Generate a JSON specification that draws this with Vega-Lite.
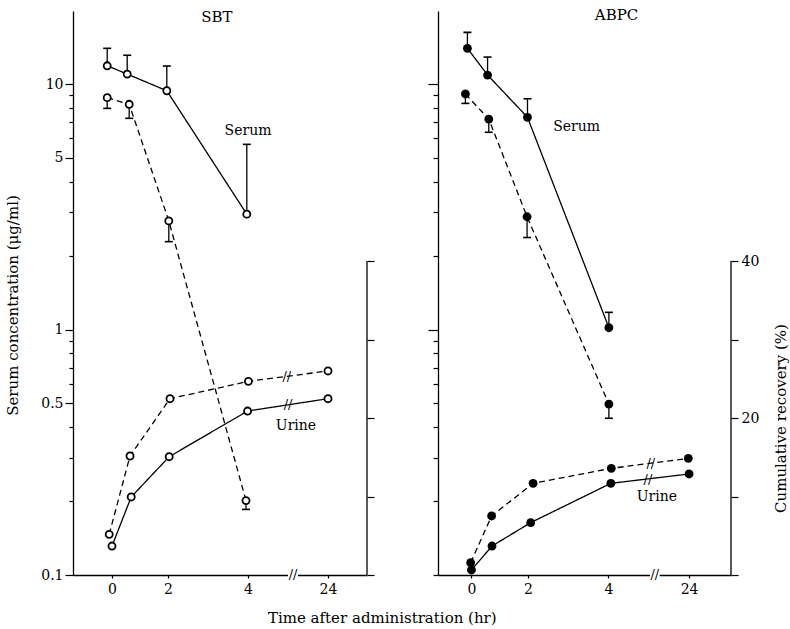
{
  "$schema": "https://vega.github.io/schema/vega-lite/v6.json",
  "background": "white",
  "padding": {"left": 5, "top": 8, "right": 5, "bottom": 0},
  "config": {
    "view": {"stroke": null},
    "font": "DejaVu Serif",
    "axis": {"grid": false, "domainColor": "black", "domainWidth": 1.3, "tickColor": "black", "tickWidth": 1.2, "labelColor": "black", "labelFont": "DejaVu Serif", "labelFontSize": 14, "titleFont": "DejaVu Serif", "titleFontWeight": "normal", "titleFontSize": 15, "titleColor": "black"}
  },
  "title": {"text": "Time after administration (hr)", "orient": "bottom", "anchor": "middle", "font": "DejaVu Serif", "fontSize": 15, "fontWeight": "normal", "color": "black", "offset": 15, "dx": -15},
  "datasets": {
    "serum": [
      {"drug": "SBT", "group": "A", "t": 0.48, "conc": 11.87, "err": 13.98},
      {"drug": "SBT", "group": "A", "t": 0.98, "conc": 10.98, "err": 13.1},
      {"drug": "SBT", "group": "A", "t": 1.97, "conc": 9.39, "err": 11.84},
      {"drug": "SBT", "group": "A", "t": 3.97, "conc": 2.95, "err": 5.68},
      {"drug": "SBT", "group": "B", "t": 0.48, "conc": 8.8, "err": 7.96},
      {"drug": "SBT", "group": "B", "t": 1.03, "conc": 8.27, "err": 7.25},
      {"drug": "SBT", "group": "B", "t": 2.02, "conc": 2.77, "err": 2.28},
      {"drug": "SBT", "group": "B", "t": 3.95, "conc": 0.201, "err": 0.185},
      {"drug": "ABPC", "group": "A", "t": 0.5, "conc": 13.98, "err": 16.24},
      {"drug": "ABPC", "group": "A", "t": 1.0, "conc": 10.88, "err": 12.88},
      {"drug": "ABPC", "group": "A", "t": 1.99, "conc": 7.32, "err": 8.71},
      {"drug": "ABPC", "group": "A", "t": 4.01, "conc": 1.017, "err": 1.175},
      {"drug": "ABPC", "group": "B", "t": 0.45, "conc": 9.11, "err": 8.34},
      {"drug": "ABPC", "group": "B", "t": 1.03, "conc": 7.2, "err": 6.36},
      {"drug": "ABPC", "group": "B", "t": 1.98, "conc": 2.88, "err": 2.37},
      {"drug": "ABPC", "group": "B", "t": 4.01, "conc": 0.497, "err": 0.435}
    ],
    "urine": [
      {"drug": "SBT", "group": "B", "t": 0.53, "pct": 5.18},
      {"drug": "SBT", "group": "B", "t": 1.05, "pct": 15.16},
      {"drug": "SBT", "group": "B", "t": 2.05, "pct": 22.46},
      {"drug": "SBT", "group": "B", "t": 4.01, "pct": 24.67},
      {"drug": "SBT", "group": "B", "t": 6.0, "pct": 25.99},
      {"drug": "SBT", "group": "A", "t": 0.6, "pct": 3.69},
      {"drug": "SBT", "group": "A", "t": 1.08, "pct": 9.94},
      {"drug": "SBT", "group": "A", "t": 2.03, "pct": 15.07},
      {"drug": "SBT", "group": "A", "t": 3.99, "pct": 20.89},
      {"drug": "SBT", "group": "A", "t": 6.0, "pct": 22.46},
      {"drug": "ABPC", "group": "B", "t": 0.58, "pct": 1.57},
      {"drug": "ABPC", "group": "B", "t": 1.1, "pct": 7.52},
      {"drug": "ABPC", "group": "B", "t": 2.13, "pct": 11.68},
      {"drug": "ABPC", "group": "B", "t": 4.07, "pct": 13.59},
      {"drug": "ABPC", "group": "B", "t": 5.98, "pct": 14.86},
      {"drug": "ABPC", "group": "A", "t": 0.6, "pct": 0.64},
      {"drug": "ABPC", "group": "A", "t": 1.11, "pct": 3.69},
      {"drug": "ABPC", "group": "A", "t": 2.07, "pct": 6.67},
      {"drug": "ABPC", "group": "A", "t": 4.06, "pct": 11.68},
      {"drug": "ABPC", "group": "A", "t": 6.0, "pct": 12.87}
    ],
    "breaks": [
      {"drug": "SBT", "t": 4.97, "pct": 25.2},
      {"drug": "SBT", "t": 5.0, "pct": 21.66},
      {"drug": "SBT", "t": 5.125, "pct": 0},
      {"drug": "ABPC", "t": 5.05, "pct": 14.2},
      {"drug": "ABPC", "t": 4.98, "pct": 12.15},
      {"drug": "ABPC", "t": 5.15, "pct": 0}
    ],
    "serumLabels": [
      {"drug": "SBT", "label": "Serum", "size": "s", "t": 4.0, "conc": 6.45},
      {"drug": "SBT", "label": "SBT", "size": "l", "t": 3.22, "conc": 18.75},
      {"drug": "ABPC", "label": "Serum", "size": "s", "t": 3.21, "conc": 6.66},
      {"drug": "ABPC", "label": "ABPC", "size": "l", "t": 4.2, "conc": 19.1}
    ],
    "urineLabels": [
      {"drug": "SBT", "label": "Urine", "t": 5.2, "pct": 18.98},
      {"drug": "ABPC", "label": "Urine", "t": 5.2, "pct": 9.95}
    ]
  },
  "spacing": 71,
  "bounds": "flush",
  "hconcat": [
    {
      "width": 294,
      "height": 564,
      "encoding": {
        "x": {"field": "t", "type": "quantitative", "title": null,
          "scale": {"domain": [-0.375, 6.975], "nice": false, "zero": false},
          "axis": {"values": [0.6, 2, 4, 6], "labelExpr": "datum.value == 0.6 ? '0' : datum.value == 6 ? '24' : datum.label", "tickSize": 3, "labelPadding": 4, "labelFlush": false}}
      },
      "layer": [
        {
          "data": {"name": "serum"},
          "encoding": {
            "y": {"field": "conc", "type": "quantitative", "title": "Serum concentration (μg/ml)",
              "scale": {"type": "log", "domain": [0.1, 19.84], "nice": false},
              "axis": {"values": [0.1, 0.2, 0.3, 0.4, 0.5, 0.6, 0.7, 0.8, 0.9, 1, 2, 3, 4, 5, 6, 7, 8, 9, 10],
                "labelExpr": "indexof([0.1, 0.5, 1, 5, 10], datum.value) >= 0 ? (datum.value < 1 ? format(datum.value, '.1f') : format(datum.value, 'd')) : ''",
                "tickSize": {"condition": {"test": "indexof([0.1, 0.5, 1, 5, 10], datum.value) >= 0", "value": 8}, "value": 4},
                "labelPadding": 2, "titlePadding": 20, "titleY": 294}}
          },
          "layer": [
            {"transform": [{"filter": "datum.drug == 'SBT'"}],
              "mark": {"type": "line", "color": "black", "strokeWidth": 1.3},
              "encoding": {"strokeDash": {"field": "group", "type": "nominal", "scale": {"domain": ["A", "B"], "range": [[1, 0], [6, 4]]}, "legend": null}}},
            {"transform": [{"filter": "datum.drug == 'SBT'"}],
              "mark": {"type": "rule", "color": "black", "strokeWidth": 1.3},
              "encoding": {"y2": {"field": "err"}}},
            {"transform": [{"filter": "datum.drug == 'SBT'"}],
              "mark": {"type": "tick", "orient": "horizontal", "size": 8, "thickness": 1.6, "color": "black", "opacity": 1},
              "encoding": {"y": {"field": "err", "type": "quantitative", "title": "Serum concentration (μg/ml)"}}},
            {"transform": [{"filter": "datum.drug == 'SBT'"}],
              "mark": {"type": "point", "shape": "circle", "filled": false, "fill": "white", "fillOpacity": 1, "stroke": "black", "strokeWidth": 1.8, "size": 50, "opacity": 1}},
            {"data": {"name": "serumLabels"}, "transform": [{"filter": "datum.drug == 'SBT'"}],
              "mark": {"type": "text", "font": "DejaVu Serif", "color": "black"},
              "encoding": {"text": {"field": "label"}, "size": {"field": "size", "type": "nominal", "scale": {"domain": ["s", "l"], "range": [14, 15]}, "legend": null}}}
          ]
        },
        {
          "data": {"name": "urine"},
          "encoding": {
            "y": {"field": "pct", "type": "quantitative", "title": null,
              "scale": {"domain": [0, 71.85], "nice": false, "zero": false},
              "axis": {"orient": "right", "values": [0, 10, 20, 30, 40], "labels": false, "domain": false, "tickSize": 7}}
          },
          "layer": [
            {"transform": [{"filter": "datum.drug == 'SBT'"}],
              "mark": {"type": "line", "color": "black", "strokeWidth": 1.3},
              "encoding": {"strokeDash": {"field": "group", "type": "nominal", "scale": {"domain": ["A", "B"], "range": [[1, 0], [6, 4]]}, "legend": null}}},
            {"transform": [{"filter": "datum.drug == 'SBT'"}],
              "mark": {"type": "point", "shape": "circle", "filled": false, "fill": "white", "fillOpacity": 1, "stroke": "black", "strokeWidth": 1.8, "size": 50, "opacity": 1}},
            {"data": {"values": [{"lo": 0, "hi": 40}]}, "mark": {"type": "rule", "color": "black", "strokeWidth": 1.3},
              "encoding": {"x": {"value": "width"}, "y": {"field": "lo", "type": "quantitative"}, "y2": {"field": "hi"}}},
            {"data": {"values": [{"from": 5.0, "to": 5.25, "lo": 0}]}, "mark": {"type": "rule", "color": "white", "strokeWidth": 4},
              "encoding": {"x": {"field": "from", "type": "quantitative"}, "x2": {"field": "to"}, "y": {"field": "lo", "type": "quantitative"}}},
            {"data": {"name": "breaks"}, "transform": [{"filter": "datum.drug == 'SBT'"}],
              "mark": {"type": "text", "font": "DejaVu Serif", "fontSize": 13, "color": "black", "baseline": "middle"},
              "encoding": {"text": {"value": "//"}}},
            {"data": {"name": "urineLabels"}, "transform": [{"filter": "datum.drug == 'SBT'"}],
              "mark": {"type": "text", "font": "DejaVu Serif", "fontSize": 14, "color": "black"},
              "encoding": {"text": {"field": "label"}}}
          ]
        }
      ],
      "resolve": {"scale": {"y": "independent"}}
    },
    {
      "width": 293,
      "height": 564,
      "encoding": {
        "x": {"field": "t", "type": "quantitative", "title": null,
          "scale": {"domain": [-0.23, 7.04], "nice": false, "zero": false},
          "axis": {"values": [0.6, 2, 4, 6], "labelExpr": "datum.value == 0.6 ? '0' : datum.value == 6 ? '24' : datum.label", "tickSize": 3, "labelPadding": 4, "labelFlush": false}}
      },
      "layer": [
        {
          "data": {"name": "serum"},
          "encoding": {
            "y": {"field": "conc", "type": "quantitative", "title": null,
              "scale": {"type": "log", "domain": [0.1, 19.84], "nice": false},
              "axis": {"values": [0.1, 0.2, 0.3, 0.4, 0.5, 0.6, 0.7, 0.8, 0.9, 1, 2, 3, 4, 5, 6, 7, 8, 9, 10],
                "labels": false,
                "tickSize": {"condition": {"test": "datum.value == 1 || datum.value == 10", "value": 10}, "value": 5}}}
          },
          "layer": [
            {"transform": [{"filter": "datum.drug == 'ABPC'"}],
              "mark": {"type": "line", "color": "black", "strokeWidth": 1.3},
              "encoding": {"strokeDash": {"field": "group", "type": "nominal", "scale": {"domain": ["A", "B"], "range": [[1, 0], [6, 4]]}, "legend": null}}},
            {"transform": [{"filter": "datum.drug == 'ABPC'"}],
              "mark": {"type": "rule", "color": "black", "strokeWidth": 1.3},
              "encoding": {"y2": {"field": "err"}}},
            {"transform": [{"filter": "datum.drug == 'ABPC'"}],
              "mark": {"type": "tick", "orient": "horizontal", "size": 8, "thickness": 1.6, "color": "black", "opacity": 1},
              "encoding": {"y": {"field": "err", "type": "quantitative", "title": null}}},
            {"transform": [{"filter": "datum.drug == 'ABPC'"}],
              "mark": {"type": "point", "shape": "circle", "filled": true, "color": "black", "size": 78, "opacity": 1}},
            {"data": {"name": "serumLabels"}, "transform": [{"filter": "datum.drug == 'ABPC'"}],
              "mark": {"type": "text", "font": "DejaVu Serif", "color": "black"},
              "encoding": {"text": {"field": "label"}, "size": {"field": "size", "type": "nominal", "scale": {"domain": ["s", "l"], "range": [14, 15]}, "legend": null}}}
          ]
        },
        {
          "data": {"name": "urine"},
          "encoding": {
            "y": {"field": "pct", "type": "quantitative", "title": "Cumulative recovery (%)",
              "scale": {"domain": [0, 71.85], "nice": false, "zero": false},
              "axis": {"orient": "right", "values": [0, 10, 20, 30, 40], "domain": false, "tickSize": 7, "labelPadding": 3,
                "labelExpr": "datum.value == 20 || datum.value == 40 ? datum.label : ''",
                "titleAngle": 270, "titleBaseline": "top", "titleY": 407, "titlePadding": 15}}
          },
          "layer": [
            {"transform": [{"filter": "datum.drug == 'ABPC'"}],
              "mark": {"type": "line", "color": "black", "strokeWidth": 1.3},
              "encoding": {"strokeDash": {"field": "group", "type": "nominal", "scale": {"domain": ["A", "B"], "range": [[1, 0], [6, 4]]}, "legend": null}}},
            {"transform": [{"filter": "datum.drug == 'ABPC'"}],
              "mark": {"type": "point", "shape": "circle", "filled": true, "color": "black", "size": 78, "opacity": 1}},
            {"data": {"values": [{"lo": 0, "hi": 40}]}, "mark": {"type": "rule", "color": "black", "strokeWidth": 1.3},
              "encoding": {"x": {"value": "width"}, "y": {"field": "lo", "type": "quantitative"}, "y2": {"field": "hi"}}},
            {"data": {"values": [{"from": 5.03, "to": 5.27, "lo": 0}]}, "mark": {"type": "rule", "color": "white", "strokeWidth": 4},
              "encoding": {"x": {"field": "from", "type": "quantitative"}, "x2": {"field": "to"}, "y": {"field": "lo", "type": "quantitative"}}},
            {"data": {"name": "breaks"}, "transform": [{"filter": "datum.drug == 'ABPC'"}],
              "mark": {"type": "text", "font": "DejaVu Serif", "fontSize": 13, "color": "black", "baseline": "middle"},
              "encoding": {"text": {"value": "//"}}},
            {"data": {"name": "urineLabels"}, "transform": [{"filter": "datum.drug == 'ABPC'"}],
              "mark": {"type": "text", "font": "DejaVu Serif", "fontSize": 14, "color": "black"},
              "encoding": {"text": {"field": "label"}}}
          ]
        }
      ],
      "resolve": {"scale": {"y": "independent"}}
    }
  ]
}
